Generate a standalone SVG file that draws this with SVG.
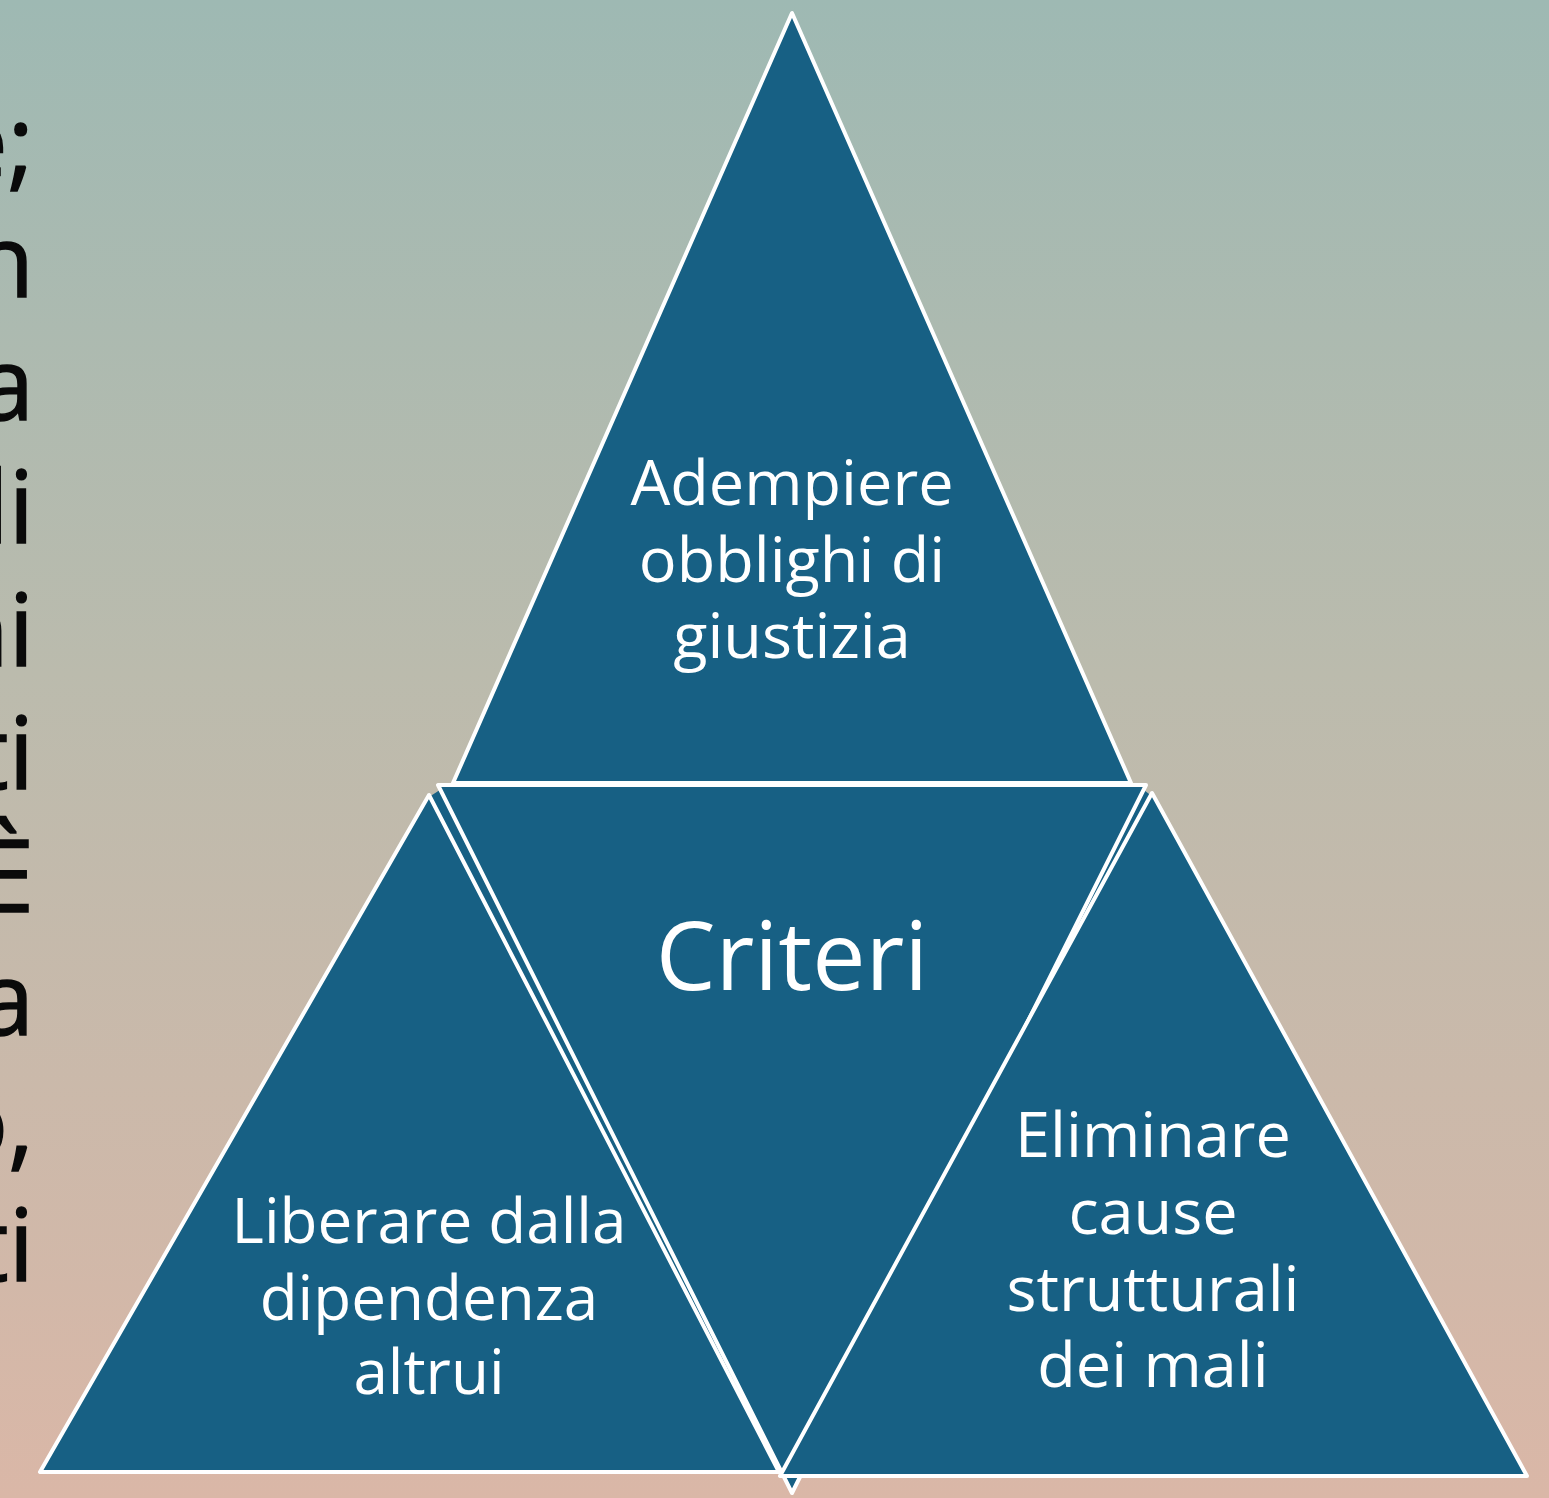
<svg xmlns="http://www.w3.org/2000/svg" width="1549" height="1498" viewBox="0 0 1549 1498">
<style>
.tri{fill:#176084;stroke:#ffffff;stroke-width:4;stroke-linejoin:round}
.fill{fill:#176084}
.lbl{font-family:"Open Sans","Noto Sans","Liberation Sans",sans-serif;fill:#ffffff;text-anchor:middle}
.side{font-family:"Open Sans","Noto Sans","Liberation Sans",sans-serif;fill:#0a0a0a;stroke:#0a0a0a;stroke-width:1.5;text-anchor:end;font-size:100px}
</style>
<defs>
<linearGradient id="bg" x1="0" y1="0" x2="0" y2="1">
<stop offset="0" stop-color="#9eb9b3"/>
<stop offset="0.45" stop-color="#bbbbad"/>
<stop offset="1" stop-color="#dab7a7"/>
</linearGradient>
</defs>
<rect width="1549" height="1498" fill="url(#bg)"/>
<g id="side-text">
<text class="side" x="34" y="178">e;</text>
<text class="side" x="34" y="297">n</text>
<text class="side" x="34" y="420">a</text>
<text class="side" x="34" y="543">li</text>
<text class="side" x="34" y="666">ni</text>
<text class="side" x="34" y="789">ti</text>
<text class="side" x="34" y="912">È</text>
<text class="side" x="34" y="1035">a</text>
<text class="side" x="34" y="1158">o,</text>
<text class="side" x="34" y="1281">ti</text>
</g>
<g id="connectors"></g>
<g id="node-top">
<polygon class="tri" points="792,13 453,783 1131,783"/>
<text class="lbl" font-size="63"><tspan x="792" y="505">Adempiere</tspan><tspan x="792" y="582">obblighi di</tspan><tspan x="792" y="658">giustizia</tspan></text>
</g>
<g id="node-center">
<polygon class="fill" points="429,797 446,786 783,1470 776,1470"/>
<polygon class="fill" points="1140,787 1153,797 1003,1072 995,1072"/>
<polygon class="tri" points="438,785 1146,785 792,1493"/>
<text class="lbl" font-size="95" x="792" y="990">Criteri</text>
</g>
<g id="node-left">
<polygon class="tri" points="429,795 40,1472 779,1472"/>
<text class="lbl" font-size="62"><tspan x="429" y="1243">Liberare dalla</tspan><tspan x="429" y="1320">dipendenza</tspan><tspan x="429" y="1394">altrui</tspan></text>
</g>
<g id="node-right">
<polygon class="tri" points="1152,793 780,1476 1527,1476"/>
<text class="lbl" font-size="63"><tspan x="1153" y="1157">Eliminare</tspan><tspan x="1153" y="1234">cause</tspan><tspan x="1153" y="1311">strutturali</tspan><tspan x="1153" y="1387">dei mali</tspan></text>
</g>
</svg>
